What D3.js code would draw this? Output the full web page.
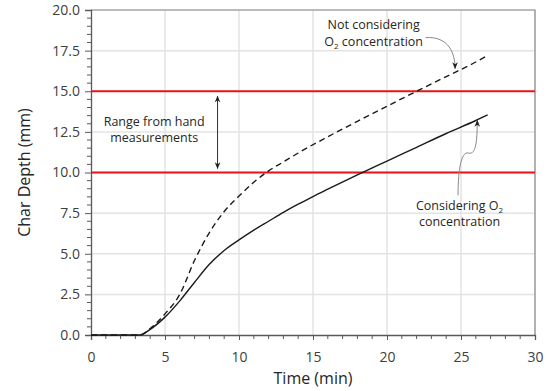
<!DOCTYPE html>
<html>
<head>
<meta charset="utf-8">
<script src="https://cdn.jsdelivr.net/npm/d3@7"></script>
<style>
  body { margin: 0; background: #fff; }
  svg { display: block; font-family: "Open Sans", sans-serif; }
</style>
</head>
<body>
<svg id="chart" width="547" height="391"></svg>
<script>
// times (min) and char depth (mm)
const timeWithO2 = [0, 3.3, 4, 5, 6, 7, 8, 9, 10, 11, 12, 13, 14, 15, 16, 18, 20, 22, 24, 26, 26.8]
const depthWithO2 = [0, 0, 0.35, 1.1, 2.1, 3.25, 4.35, 5.2, 5.85, 6.45, 7.0, 7.55, 8.05, 8.52, 8.97, 9.85, 10.7, 11.55, 12.4, 13.2, 13.55]
const timeNoO2 = [0, 3.3, 4, 5, 6, 7, 8, 9, 10, 11, 12, 13, 14, 16, 18, 20, 22, 24, 26, 26.7]
const depthNoO2 = [0, 0, 0.4, 1.3, 2.5, 4.6, 6.3, 7.6, 8.55, 9.4, 10.1, 10.65, 11.2, 12.2, 13.15, 14.08, 15.0, 15.9, 16.8, 17.15]
const rangeLines = [10, 15]
const xTicks = [0, 5, 10, 15, 20, 25, 30]
const yTicks = [0, 2.5, 5, 7.5, 10, 12.5, 15, 17.5, 20]

const margin = ({top: 10, right: 12, bottom: 56, left: 91})
const width = 547, height = 391
const svg = d3.select('#chart')

const x = d3.scaleLinear().domain([0, 30]).range([margin.left, width - margin.right])
const y = d3.scaleLinear().domain([0, 20]).range([height - margin.bottom, margin.top])

// grid
svg.append('g')
  .selectAll('line').data(xTicks.slice(1)).join('line')
  .attr('x1', d => x(d)).attr('x2', d => x(d))
  .attr('y1', y(0)).attr('y2', y(20))
  .attr('stroke', '#e3e3e3').attr('stroke-width', 1.5)
svg.append('g')
  .selectAll('line').data(yTicks.slice(1)).join('line')
  .attr('x1', x(0)).attr('x2', x(30))
  .attr('y1', d => y(d)).attr('y2', d => y(d))
  .attr('stroke', '#e3e3e3').attr('stroke-width', 1.5)

// frame top/right
svg.append('path')
  .attr('d', `M${x(0)},${y(20)}H${x(30)}V${y(0)}`)
  .attr('fill', 'none').attr('stroke', '#8c8c8c').attr('stroke-width', 1.2)

// axes
const xAxis = g => g
  .attr('transform', `translate(0,${y(0)})`)
  .call(d3.axisBottom(x).tickValues(xTicks).tickSize(5).tickPadding(12).tickFormat(d3.format('d')))
  .call(g => g.selectAll('.tick line').attr('stroke', '#595959'))
  .call(g => g.append('g').selectAll('line').data(d3.range(0, 31).filter(d => d % 5))
    .join('line').attr('x1', d => x(d)).attr('x2', d => x(d)).attr('y1', 0).attr('y2', 4)
    .attr('stroke', '#595959'))

const yAxis = g => g
  .attr('transform', `translate(${x(0)},0)`)
  .call(d3.axisLeft(y).tickValues(yTicks).tickSize(6).tickPadding(5).tickFormat(d3.format('.1f')))
  .call(g => g.selectAll('.tick line').attr('stroke', '#595959'))
  .call(g => g.append('g').selectAll('line').data(d3.range(0, 20.01, 0.5).filter(d => d % 2.5))
    .join('line').attr('y1', d => y(d)).attr('y2', d => y(d)).attr('x1', 0).attr('x2', -4)
    .attr('stroke', '#595959'))

svg.append('g').call(xAxis)
svg.append('g').call(yAxis)
svg.selectAll('.domain').attr('stroke', '#595959').attr('stroke-width', 1.3)
svg.selectAll('.tick text').attr('font-size', 14).attr('fill', '#404040')
  .style('font-family', '"Open Sans", sans-serif')

// axis titles
svg.append('text')
  .attr('x', x(15)).attr('y', 384)
  .attr('text-anchor', 'middle').attr('font-size', 16).attr('fill', '#262626')
  .text('Time (min)')
svg.append('text')
  .attr('transform', `translate(30,${y(10)}) rotate(-90)`)
  .attr('text-anchor', 'middle').attr('font-size', 16).attr('fill', '#262626')
  .text('Char Depth (mm)')

// red range lines
svg.append('g').selectAll('line').data(rangeLines).join('line')
  .attr('x1', x(0)).attr('x2', x(30))
  .attr('y1', d => y(d)).attr('y2', d => y(d))
  .attr('stroke', '#e8141b').attr('stroke-width', 2)

// curves
const line = d3.line().curve(d3.curveMonotoneX).x(d => x(d[0])).y(d => y(d[1]))
svg.append('path')
  .datum(d3.zip(timeNoO2, depthNoO2))
  .attr('fill', 'none').attr('stroke', '#1a1a1a').attr('stroke-width', 1.4)
  .attr('stroke-dasharray', '6,4')
  .attr('d', line)
svg.append('path')
  .datum(d3.zip(timeWithO2, depthWithO2))
  .attr('fill', 'none').attr('stroke', '#1a1a1a').attr('stroke-width', 1.4)
  .attr('d', line)

// arrow heads
const defs = svg.append('defs')
defs.append('marker')
  .attr('id', 'arr').attr('viewBox', '0 0 10 10').attr('refX', 9).attr('refY', 5)
  .attr('markerWidth', 7).attr('markerHeight', 7).attr('orient', 'auto-start-reverse')
  .append('path').attr('d', 'M0,1L10,5L0,9L3,5Z').attr('fill', '#222')

// range annotation
svg.append('line')
  .attr('x1', x(8.55)).attr('x2', x(8.55))
  .attr('y1', y(14.7)).attr('y2', y(10.25))
  .attr('stroke', '#333').attr('stroke-width', 1)
  .attr('marker-start', 'url(#arr)').attr('marker-end', 'url(#arr)')
const rangeText = svg.append('text').attr('text-anchor', 'middle')
  .attr('font-size', 12.5).attr('fill', '#262626')
rangeText.append('tspan').attr('x', x(4.27)).attr('y', y(12.88)).text('Range from hand')
rangeText.append('tspan').attr('x', x(4.27)).attr('y', y(11.88)).text('measurements')

// "Not considering" label
const t1 = svg.append('text').attr('text-anchor', 'middle')
  .attr('font-size', 12.5).attr('fill', '#262626')
t1.append('tspan').attr('x', x(19.1)).attr('y', y(18.83)).text('Not considering')
const t1b = t1.append('tspan').attr('x', x(19.1)).attr('y', y(17.78))
t1b.append('tspan').text('O')
t1b.append('tspan').attr('font-size', 8).attr('dy', 3).text('2')
t1b.append('tspan').attr('dy', -3).text(' concentration')

svg.append('path')
  .attr('d', `M${x(22.6)},${y(18.3)} C${x(24.2)},${y(18.4)} ${x(24.6)},${y(17.3)} ${x(24.6)},${y(16.4)}`)
  .attr('fill', 'none').attr('stroke', '#8a8a8a').attr('stroke-width', 1)
  .attr('marker-end', 'url(#arr)')

// "Considering" label
const t2 = svg.append('text').attr('text-anchor', 'middle')
  .attr('font-size', 12.5).attr('fill', '#262626')
const t2a = t2.append('tspan').attr('x', x(24.9)).attr('y', y(7.69))
t2a.append('tspan').text('Considering O')
t2a.append('tspan').attr('font-size', 8).attr('dy', 3).text('2')
t2.append('tspan').attr('x', x(24.9)).attr('y', y(6.71)).text('concentration')

svg.append('path')
  .attr('d', `M${x(24.8)},${y(8.6)} C${x(24.8)},${y(10.5)} ${x(25.1)},${y(11.3)} ${x(25.5)},${y(11.2)} S${x(26.1)},${y(11.5)} ${x(26.1)},${y(13.2)}`)
  .attr('fill', 'none').attr('stroke', '#8a8a8a').attr('stroke-width', 1)
  .attr('marker-end', 'url(#arr)')
</script>
</body>
</html>
